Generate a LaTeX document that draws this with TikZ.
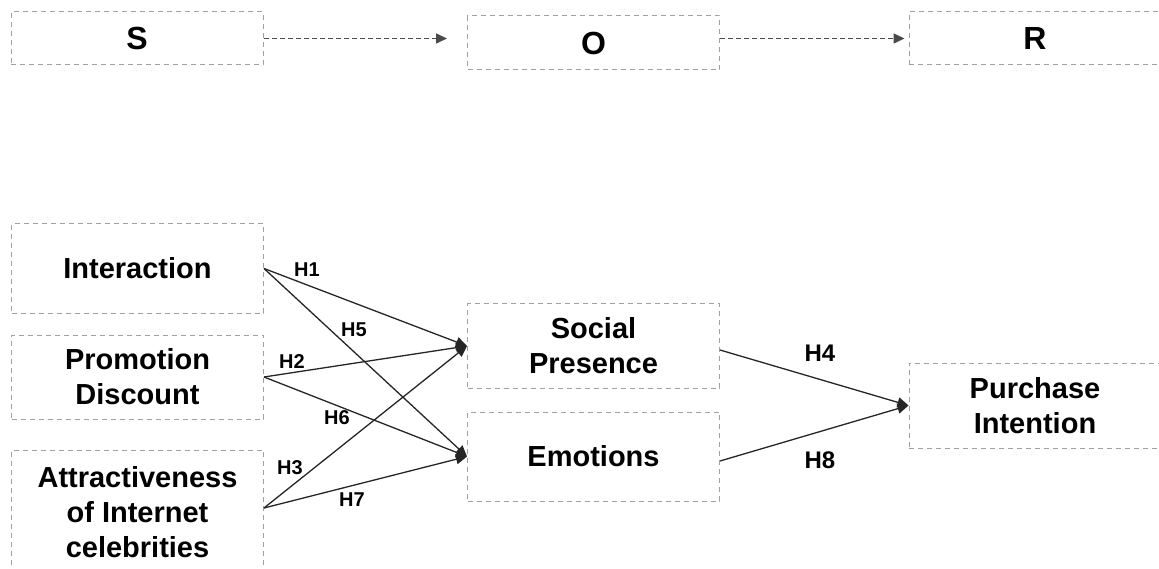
\documentclass[tikz,border=0pt]{standalone}
\usepackage{fontspec}
\setmainfont{Liberation Sans}
\usetikzlibrary{arrows.meta,calc}
\definecolor{boxgray}{HTML}{A0A0A0}
\definecolor{arrgray}{HTML}{4A4A4A}
\begin{document}
\begin{tikzpicture}[x=1pt,y=-1pt,
  box/.style={draw=boxgray, line width=1pt, dash pattern=on 5pt off 4pt,
    rectangle, inner sep=0pt, align=center, minimum width=252pt,
    font=\fontsize{29}{35}\selectfont\bfseries},
  sor/.style={box, font=\fontsize{32}{38}\selectfont\bfseries},
  topar/.style={draw=arrgray, line width=1.6pt, dash pattern=on 5pt off 3pt,
    -{Triangle[length=11pt,width=10pt]}},
  solar/.style={draw=black!85, line width=1.3pt,
    -{Triangle[length=11pt,width=10pt]}},
  hlab/.style={inner sep=0pt, font=\fontsize{20}{24}\selectfont\bfseries},
  hlabbig/.style={inner sep=0pt, font=\fontsize{24}{28}\selectfont\bfseries}]
\clip (0,0) rectangle (1159,569);
\fill[white] (0,0) rectangle (1159,569);
% top row
\node[sor, minimum height=53pt] (S) at (137,38.5) {S};
\node[sor, minimum height=54pt] (O) at (593.5,43) {O};
\node[sor, minimum height=53pt, minimum width=260pt] (R) at (1039,38.5) {\hspace*{-8pt}R};
\draw[topar, shorten >=20pt] (S.east) -- (S.east -| O.west);
\draw[topar, shorten >=4pt] (O.east |- R.west) -- (R.west);
% left column
\node[box, minimum height=89pt] (I) at (137.5,268.5) {Interaction};
\node[box, minimum height=84pt] (P) at (137.5,377) {Promotion\\Discount};
\node[box, minimum height=124pt] (A) at (137.5,512) {Attractiveness\\of Internet\\celebrities};
% middle
\node[box, minimum height=84pt] (SP) at (593.5,346) {Social\\Presence};
\node[box, minimum height=89pt] (E) at (593.5,456.5) {Emotions};
% right
\node[box, minimum height=85pt, minimum width=260pt] (PI) at (1039,405.5) {\hspace*{-8pt}Purchase\\\hspace*{-8pt}Intention};
% connectors
\draw[solar] (I.east) -- (SP.west);
\draw[solar] (I.east) -- (E.west);
\draw[solar] (P.east) -- (SP.west);
\draw[solar] (P.east) -- (E.west);
\draw[solar] ([yshift=4pt]A.east) -- (SP.west);
\draw[solar] ([yshift=4pt]A.east) -- (E.west);
\draw[solar] ([yshift=-4pt]SP.east) -- (PI.west);
\draw[solar] ([yshift=-4.5pt]E.east) -- (PI.west);
% labels
\node[hlab] (h1) at (307,270) {H1};
\node[hlab] (h5) at (354,330) {H5};
\node[hlab] (h2) at (292,362) {H2};
\node[hlab] (h6) at (337,418) {H6};
\node[hlab] (h3) at (290,468) {H3};
\node[hlab] (h7) at (352,500) {H7};
\node[hlabbig] (h4) at (820,353) {H4};
\node[hlabbig] (h8) at (820,460) {H8};
\end{tikzpicture}
\end{document}
